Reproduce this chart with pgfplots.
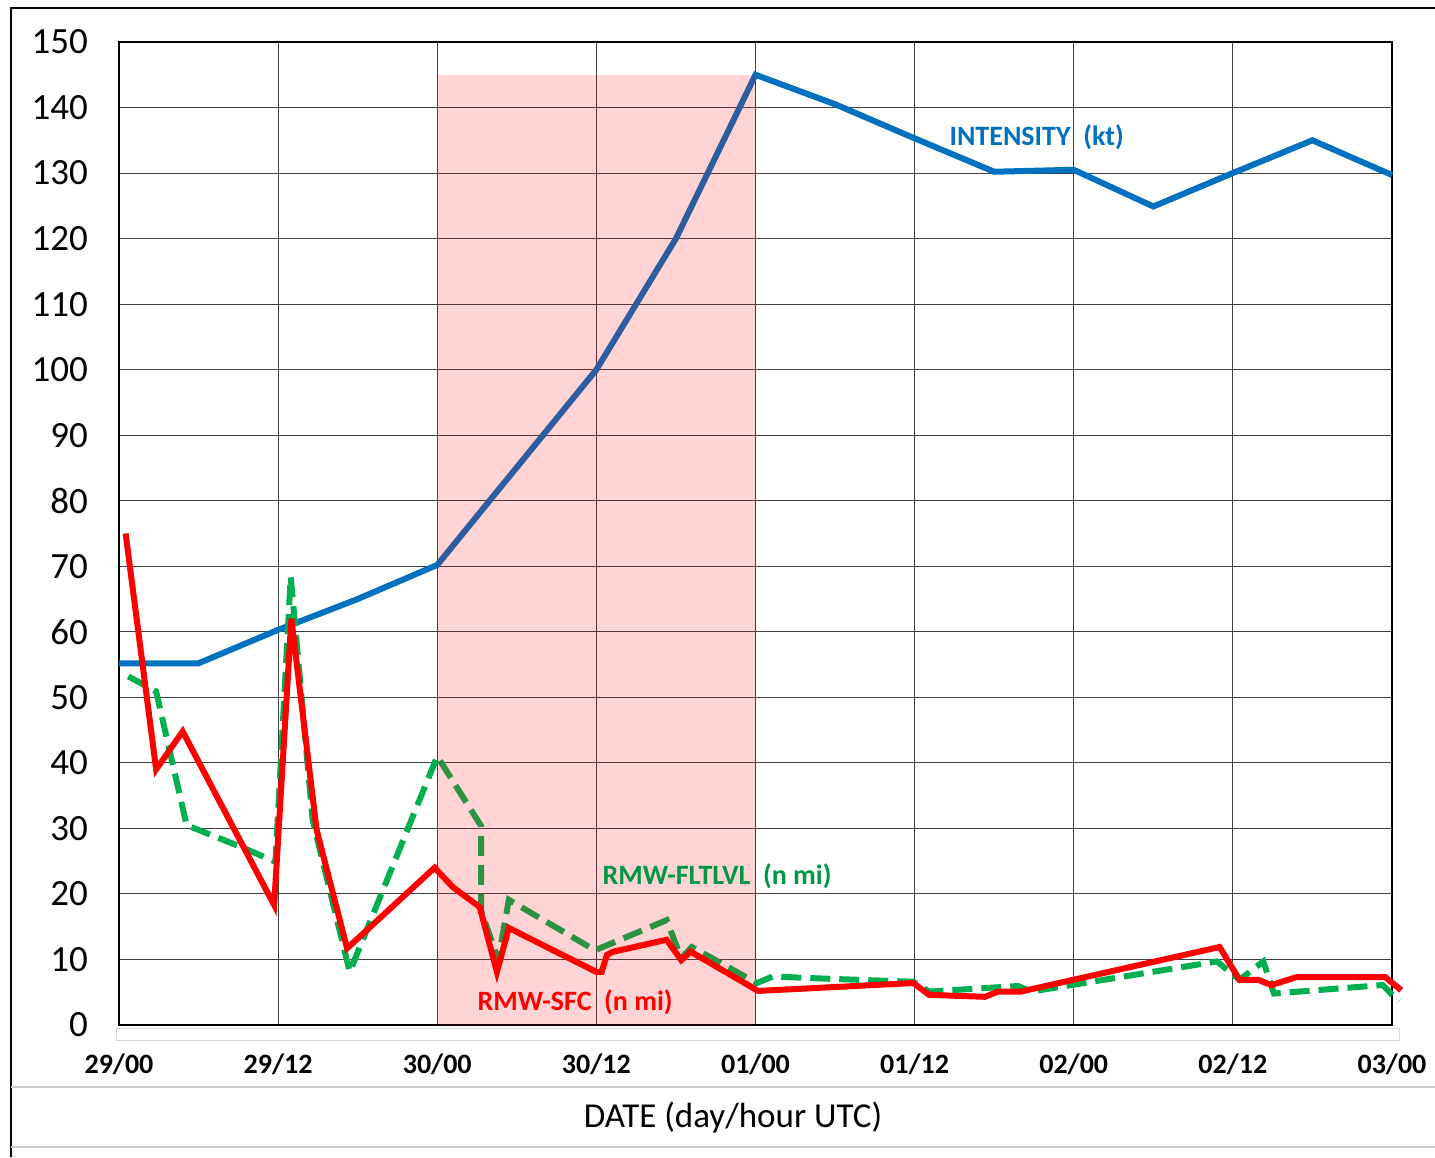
\documentclass[border=0pt]{standalone}
\usepackage{pgfplots}
\pgfplotsset{compat=1.18}
\usepackage{fontspec}
\setmainfont{Carlito}
\definecolor{cblue}{RGB}{0,112,192}
\definecolor{cred}{RGB}{255,0,0}
\definecolor{cgreen}{RGB}{0,176,80}
\begin{document}
\begin{tikzpicture}
\path[use as bounding box] (-59.5pt,-66pt) rectangle (658pt,512.5pt);
% outer frame
\draw[black, line width=1pt] (-54pt,-66pt) -- (-54pt,508.5pt) -- (658pt,508.5pt);
\draw[black!20, line width=0.6pt] (-54pt,-31pt) -- (658pt,-31pt);
\draw[black!20, line width=0.6pt] (-54pt,-61pt) -- (658pt,-61pt);
\draw[black!15, line width=0.5pt] (-1.5pt,-1.5pt) rectangle (640pt,-7.5pt);
\begin{axis}[
  at={(0pt,0pt)}, anchor=south west,
  width=636.5pt, height=491.5pt, scale only axis,
  xmin=0, xmax=96, ymin=0, ymax=150,
  clip=false,
  xtick={0,12,...,96},
  xticklabels={29/00,29/12,30/00,30/12,01/00,01/12,02/00,02/12,03/00},
  ytick={0,10,...,150},
  major tick length=0pt,
  grid=major,
  major grid style={black!75, line width=0.5pt},
  axis line style={black, line width=1pt},
  /pgf/number format/assume math mode=true,
  yticklabel style={font=\fontsize{18.5}{18.5}\selectfont, xshift=-12pt},
  xticklabel style={font=\fontsize{14}{14}\selectfont\bfseries, yshift=-11pt},
]
\addplot[cblue, line width=3pt] coordinates {
(0,55.2) (6,55.2) (12,60.3) (18,65) (24,70.2) (36,100) (42,120) (48,145)
(54,140.5) (60,135.3) (66,130.2) (72,130.5) (78,124.9) (84,130) (90,135) (96,129.7)
};
\addplot[cgreen, line width=3pt, dash pattern=on 10pt off 4.5pt] coordinates {
(0.7,53.2) (2.8,50.9) (5.1,30.5) (9.4,27) (11.8,24.9) (12.95,68.4) (14.6,31.3)
(17.4,8.1) (24,41) (27.3,30.4) (27.3,17.5) (28.6,9.9) (29.4,19.1) (35.9,11.4)
(41.3,16) (42.4,10.2) (43.2,11.9) (48.1,6.4) (49.3,7.4) (52.9,7.1) (59.9,6.6)
(61.1,5.1) (67.8,5.95) (68.8,5.1) (82.8,9.7) (84.5,6.9) (86.3,9.7) (87.1,4.8)
(95.3,6.1) (96.5,3.6)
};
\addplot[cred, line width=3pt] coordinates {
(0.5,75) (2.8,39) (4.8,44.8) (11.7,18.3) (13,62) (14.9,29.8) (17.2,11.7)
(23.8,24) (25.2,21) (27.2,18) (28.5,8.1) (29.4,14.8) (36,8.1) (36.4,8.1)
(36.8,10.7) (37.3,11.2) (41.3,13) (42.4,9.9) (43.1,11.2) (48.2,5.2) (59.9,6.4)
(61.1,4.6) (65.3,4.3) (66.3,5.1) (68,5.1) (83,11.9) (84.5,6.9) (85.9,6.9)
(86.9,6.1) (88.8,7.3) (95.5,7.3) (96.7,5.3)
};
\addplot[draw=none, fill=red, fill opacity=0.17] coordinates {(24,0) (48,0) (48,145) (24,145)} -- cycle;
\node[cblue, font=\fontsize{14}{14}\selectfont\bfseries] at (axis cs:69.2,135.5) {INTENSITY\ \ (kt)};
\node[cgreen!85!black, font=\fontsize{14}{14}\selectfont\bfseries] at (axis cs:45.1,22.7) {RMW-FLTLVL\ \ (n mi)};
\node[cred, font=\fontsize{14}{14}\selectfont\bfseries] at (axis cs:34.4,3.5) {RMW-SFC\ \ (n mi)};
\end{axis}
\node[font=\fontsize{17.5}{17.5}\selectfont] at (307pt,-46.5pt) {DATE (day/hour UTC)};
\end{tikzpicture}
\end{document}
